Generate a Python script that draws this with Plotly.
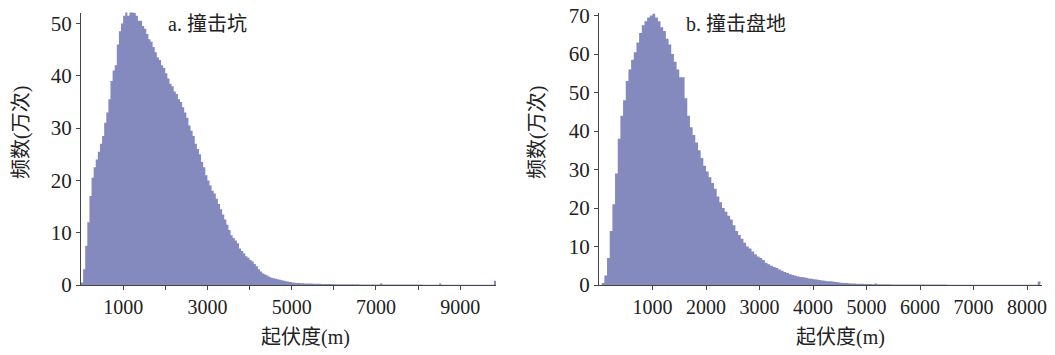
import plotly.graph_objects as go

# ---------------- data ----------------
bin_width = 50  # m

# a. 撞击坑 : frequency (万次) in 50 m bins starting at 0 m
crater_counts = [
    0.5, 3, 7.5, 12, 17, 20.5, 22.5, 24, 25.5, 27,
    28.5, 31, 33, 35.5, 39, 41, 42, 46, 48.5, 50,
    51.5, 52.5, 51.5, 52.5, 52.5, 52, 51.5, 50.5, 50.5, 49.5,
    49, 48, 47, 46.5, 45.5, 44.5, 43.5, 43, 42, 41.5,
    40.5, 39.5, 38.5, 38, 37, 36.5, 35.5, 35, 34, 33,
    32, 30.5, 29.5, 28.5, 27, 26, 25, 23.5, 22.5, 21,
    20, 19, 18, 17.5, 16.5, 15.5, 14.5, 13.5, 12.5, 11.5,
    10.5, 9.5, 9, 8.5, 8, 7, 6.5, 6, 5.5, 5.2,
    4.8, 4.5, 4, 3.6, 3.0, 2.6, 2.2, 2.0, 1.8, 1.6,
    1.4, 1.3, 1.2, 1.1, 1.0, 0.9, 0.8, 0.7, 0.6, 0.55,
    0.5, 0.45, 0.4, 0.4, 0.35, 0.35, 0.3, 0.3, 0.3, 0.28,
    0.25, 0.25, 0.22, 0.22, 0.2, 0.2, 0.2, 0.18, 0.18, 0.18,
    0.16, 0.15, 0.15, 0.15, 0.14, 0.14, 0.13, 0.13, 0.13, 0.12,
    0.12, 0.12, 0.11, 0.11, 0.11, 0.1, 0.1, 0.1, 0.1, 0.1,
    0.1, 0.1, 0.35, 0.1, 0.1, 0.09, 0.09, 0.09, 0.09, 0.09,
    0.08, 0.08, 0.08, 0.08, 0.08, 0.08, 0.08, 0.08, 0.08, 0.08,
    0.08, 0.08, 0.07, 0.07, 0.07, 0.07, 0.07, 0.07, 0.07, 0.07,
    0.3, 0.07, 0.06, 0.06, 0.06, 0.06, 0.06, 0.06, 0.06, 0.06,
    0.06, 0.05, 0.05, 0.05, 0.05, 0.05, 0.05, 0.05, 0.05, 0.05,
    0.05, 0.05, 0.05, 0.05, 0.05, 0.05, 0.8,
]

# b. 撞击盘地 : frequency (万次) in 50 m bins starting at 0 m
basin_counts = [
    0, 0.5, 2.5, 7, 14, 21, 29, 38, 44, 48,
    53, 56, 58.5, 60.5, 63, 65.5, 67.5, 68.5, 69.5, 70,
    70.5, 69.5, 68.5, 67, 66, 64, 62.5, 60, 58, 56,
    54, 54, 48.5, 44, 41, 39, 37, 35, 33, 31,
    29.5, 28, 26.5, 25, 23, 21.5, 20, 19, 18, 17,
    15.5, 14, 13, 12, 11, 10, 9.5, 8.7, 8, 7.4,
    7, 6.5, 5.8, 5.4, 5, 4.7, 4.4, 4.0, 3.7, 3.4,
    3.1, 2.8, 2.6, 2.4, 2.2, 2.1, 2.0, 1.9, 1.7, 1.6,
    1.5, 1.4, 1.3, 1.2, 1.1, 1.0, 0.95, 0.9, 0.8, 0.7,
    0.6, 0.55, 0.5, 0.45, 0.4, 0.4, 0.35, 0.3, 0.3, 0.28,
    0.25, 0.24, 0.22, 0.4, 0.2, 0.2, 0.18, 0.18, 0.17, 0.16,
    0.15, 0.15, 0.14, 0.14, 0.13, 0.13, 0.12, 0.12, 0.11, 0.11,
    0.1, 0.1, 0.1, 0.1, 0.1, 0.1, 0.1, 0.1, 0.1, 0.1,
    0.09, 0.09, 0.09, 0.09, 0.09, 0.09, 0.09, 0.09, 0.09, 0.09,
    0.08, 0.08, 0.08, 0.08, 0.08, 0.08, 0.08, 0.08, 0.08, 0.08,
    0.07, 0.07, 0.07, 0.07, 0.07, 0.07, 0.07, 0.07, 0.07, 0.07,
    0.07, 0.06, 0.06, 0.06, 0.9,
]

x_ticks_a = [1000, 2000, 3000, 4000, 5000, 6000, 7000, 8000, 9000]
x_labels_a = ["1000", "", "3000", "", "5000", "", "7000", "", "9000"]
x_ticks_b = [1000, 2000, 3000, 4000, 5000, 6000, 7000, 8000]
x_labels_b = ["1000", "2000", "3000", "4000", "5000", "6000", "7000", "8000"]
y_ticks_a = [0, 10, 20, 30, 40, 50]
y_ticks_b = [0, 10, 20, 30, 40, 50, 60, 70]

title_a = "a. 撞击坑"
title_b = "b. 撞击盘地"
x_title = "起伏度(m)"
y_title = "频数(万次)"

# ---------------- styling ----------------
FILL = "rgb(133,138,190)"
AXIS = "#444444"
FONT = "Liberation Serif, 'Times New Roman', 'Noto Sans CJK SC', serif"
W, H = 1055, 355


def step_xy(counts):
    xs = [i * bin_width for i in range(len(counts) + 1)]
    ys = list(counts) + [counts[-1]]
    return xs, ys


fig = go.Figure()
for counts, xa, ya in [(crater_counts, "x", "y"), (basin_counts, "x2", "y2")]:
    xs, ys = step_xy(counts)
    fig.add_trace(go.Scatter(
        x=xs, y=ys, mode="lines", line=dict(shape="hv", width=0, color=FILL),
        fill="tozeroy", fillcolor=FILL, xaxis=xa, yaxis=ya, hoverinfo="skip"))

ydom = [70 / H, 1 - 12.5 / H]
common_x = dict(showline=True, linecolor=AXIS, linewidth=1, ticks="outside",
                ticklen=4, tickcolor=AXIS, showgrid=False, zeroline=False,
                automargin=False,
                tickfont=dict(family=FONT, size=20, color="#222"))
common_y = dict(showline=True, linecolor=AXIS, linewidth=1, ticks="outside",
                ticklen=4, tickcolor=AXIS, showgrid=False, zeroline=False,
                automargin=False,
                tickfont=dict(family=FONT, size=21, color="#222"))

fig.update_layout(
    width=W, height=H, margin=dict(l=0, r=0, t=0, b=0, pad=0),
    paper_bgcolor="white", plot_bgcolor="white", showlegend=False,
    xaxis=dict(domain=[81 / W, 496 / W], range=[0, 9850], tickvals=x_ticks_a,
               ticktext=x_labels_a, anchor="y", **common_x),
    yaxis=dict(domain=ydom, range=[0, 52.1], tickvals=y_ticks_a, anchor="x", **common_y),
    xaxis2=dict(domain=[599 / W, 1042 / W], range=[0, 8280], tickvals=x_ticks_b,
                ticktext=x_labels_b, anchor="y2", **common_x),
    yaxis2=dict(domain=ydom, range=[0, 70.8], tickvals=y_ticks_b, anchor="x2", **common_y),
)

ann_font = dict(family=FONT, size=20, color="#222")
annotations = [
    dict(text=title_a, x=207, y=H - 24),
    dict(text=title_b, x=736, y=H - 24),
    dict(text=x_title, x=305, y=H - 337),
    dict(text=x_title, x=840, y=H - 337),
    dict(text=y_title, x=22, y=H - 133, textangle=-90),
    dict(text=y_title, x=538, y=H - 133, textangle=-90),
]
for a in annotations:
    fig.add_annotation(xref="paper", yref="paper", x=a["x"] / W, y=a["y"] / H,
                       text=a["text"], showarrow=False, xanchor="center", yanchor="middle",
                       textangle=a.get("textangle", 0), font=ann_font)

fig.write_html("out.html")
